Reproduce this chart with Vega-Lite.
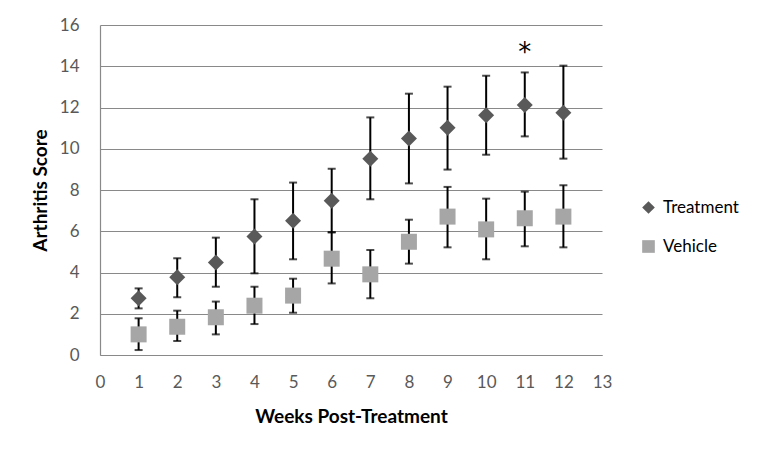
{
  "$schema": "https://vega.github.io/schema/vega-lite/v6.json",
  "width": 502,
  "height": 330,
  "autosize": {"type": "none"},
  "padding": {"left": 100, "top": 25, "right": 171, "bottom": 97},
  "background": "white",
  "config": {
    "font": "Lato",
    "view": {"stroke": null},
    "axis": {"labelFont": "Lato", "titleFont": "Lato", "labelColor": "#595959", "titleColor": "#000000", "labelFontSize": 17, "titleFontSize": 19, "titleFontWeight": "bold", "ticks": false, "domainColor": "#898989", "gridColor": "#898989", "gridWidth": 1.2, "domainWidth": 1.2, "labelOverlap": false}
  },
  "datasets": {
    "scores": [
      {"week": 1, "group": "Treatment", "score": 2.75, "lo": 2.26, "hi": 3.23},
      {"week": 2, "group": "Treatment", "score": 3.77, "lo": 2.80, "hi": 4.69},
      {"week": 3, "group": "Treatment", "score": 4.48, "lo": 3.31, "hi": 5.69},
      {"week": 4, "group": "Treatment", "score": 5.74, "lo": 3.96, "hi": 7.55},
      {"week": 5, "group": "Treatment", "score": 6.51, "lo": 4.64, "hi": 8.36},
      {"week": 6, "group": "Treatment", "score": 7.48, "lo": 5.95, "hi": 9.03},
      {"week": 7, "group": "Treatment", "score": 9.52, "lo": 7.55, "hi": 11.52},
      {"week": 8, "group": "Treatment", "score": 10.50, "lo": 8.32, "hi": 12.67},
      {"week": 9, "group": "Treatment", "score": 11.02, "lo": 8.99, "hi": 13.01},
      {"week": 10, "group": "Treatment", "score": 11.62, "lo": 9.71, "hi": 13.54},
      {"week": 11, "group": "Treatment", "score": 12.12, "lo": 10.60, "hi": 13.70},
      {"week": 12, "group": "Treatment", "score": 11.75, "lo": 9.52, "hi": 14.03},
      {"week": 1, "group": "Vehicle", "score": 1.00, "lo": 0.24, "hi": 1.78},
      {"week": 2, "group": "Vehicle", "score": 1.37, "lo": 0.68, "hi": 2.15},
      {"week": 3, "group": "Vehicle", "score": 1.83, "lo": 1.00, "hi": 2.59},
      {"week": 4, "group": "Vehicle", "score": 2.39, "lo": 1.50, "hi": 3.31},
      {"week": 5, "group": "Vehicle", "score": 2.88, "lo": 2.05, "hi": 3.70},
      {"week": 6, "group": "Vehicle", "score": 4.67, "lo": 3.47, "hi": 5.95},
      {"week": 7, "group": "Vehicle", "score": 3.91, "lo": 2.75, "hi": 5.09},
      {"week": 8, "group": "Vehicle", "score": 5.49, "lo": 4.43, "hi": 6.56},
      {"week": 9, "group": "Vehicle", "score": 6.71, "lo": 5.22, "hi": 8.15},
      {"week": 10, "group": "Vehicle", "score": 6.09, "lo": 4.64, "hi": 7.58},
      {"week": 11, "group": "Vehicle", "score": 6.63, "lo": 5.27, "hi": 7.92},
      {"week": 12, "group": "Vehicle", "score": 6.71, "lo": 5.22, "hi": 8.23}
    ],
    "marks": [
      {"week": 11, "score": 14.65, "label": "*"}
    ]
  },
  "encoding": {
    "x": {"field": "week", "type": "quantitative", "scale": {"domain": [0, 13], "nice": false}, "axis": {"values": [0,1,2,3,4,5,6,7,8,9,10,11,12,13], "labelOverlap": false, "labelFlush": false, "grid": false, "title": "Weeks Post-Treatment", "labelPadding": 19, "titlePadding": 17}}
  },
  "layer": [
    {
      "data": {"name": "scores"},
      "mark": {"type": "rule", "color": "black", "strokeWidth": 2},
      "encoding": {
        "y": {"field": "lo", "type": "quantitative", "scale": {"domain": [0, 16], "nice": false}, "axis": {"values": [0,2,4,6,8,10,12,14,16], "labelOverlap": false, "grid": true, "title": "Arthritis Score", "labelPadding": 21, "titlePadding": 9}},
        "y2": {"field": "hi"}
      }
    },
    {
      "data": {"name": "scores"},
      "mark": {"type": "tick", "color": "black", "thickness": 2, "size": 8, "orient": "horizontal"},
      "encoding": {
        "y": {"field": "lo", "type": "quantitative"}
      }
    },
    {
      "data": {"name": "scores"},
      "mark": {"type": "tick", "color": "black", "thickness": 2, "size": 8, "orient": "horizontal"},
      "encoding": {
        "y": {"field": "hi", "type": "quantitative"}
      }
    },
    {
      "data": {"name": "scores"},
      "mark": {"type": "point", "filled": true, "opacity": 1, "size": 256},
      "encoding": {
        "y": {"field": "score", "type": "quantitative"},
        "color": {"field": "group", "type": "nominal", "scale": {"domain": ["Treatment", "Vehicle"], "range": ["#595959", "#a6a6a6"]}, "legend": {"orient": "none", "legendX": 540, "legendY": 174, "title": null, "labelFont": "Lato", "labelFontSize": 17, "labelColor": "#000000", "symbolSize": 160, "rowPadding": 21, "padding": 0, "labelOffset": 6, "symbolOpacity": 1}},
        "shape": {"field": "group", "type": "nominal", "scale": {"domain": ["Treatment", "Vehicle"], "range": ["diamond", "square"]}, "legend": null}
      }
    },
    {
      "data": {"name": "marks"},
      "mark": {"type": "text", "fontSize": 26, "font": "DejaVu Sans", "color": "#000000", "baseline": "middle", "align": "center"},
      "encoding": {
        "y": {"field": "score", "type": "quantitative"},
        "text": {"field": "label"}
      }
    }
  ]
}
